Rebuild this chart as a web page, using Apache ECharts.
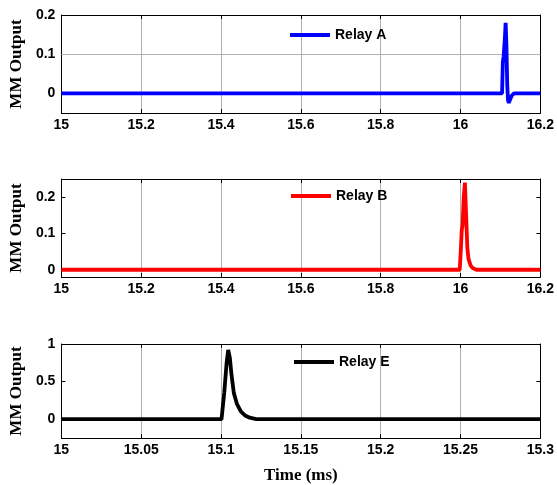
<!DOCTYPE html>
<html>
<head>
<meta charset="utf-8">
<script src="https://cdn.jsdelivr.net/npm/echarts@6/dist/echarts.min.js"></script>
<style>
html,body{margin:0;padding:0;background:#fff;}
#chart{width:557px;height:485px;}
</style>
</head>
<body>
<div id="chart"></div>
<script>
// Relay A (top panel)
const relayATime  = [15, 16.104, 16.106, 16.108, 16.110, 16.111, 16.113, 16.115, 16.117, 16.119, 16.121, 16.124, 16.128, 16.134, 16.2];
const relayAValue = [0,  0,      0.08,   0.095,  0.10,   0.14,   0.18,   0.12,   0.02,   -0.018, -0.024, -0.016, -0.006, 0,      0];
// Relay B (middle panel)
const relayBTime  = [15, 15.998, 16.001, 16.003, 16.005, 16.008, 16.011, 16.014, 16.017, 16.020, 16.025, 16.030, 16.040, 16.2];
const relayBValue = [0,  0,      0.06,   0.11,   0.12,   0.20,   0.24,   0.15,   0.06,   0.03,   0.012,  0.005,  0,      0];
// Relay E (bottom panel)
const relayETime  = [15, 15.1003, 15.102, 15.1035, 15.1045, 15.1055, 15.1065, 15.108, 15.110, 15.1125, 15.115, 15.118, 15.122, 15.3];
const relayEValue = [0,  0,       0.35,   0.75,    0.92,    0.82,    0.60,    0.35,   0.20,   0.10,    0.05,   0.02,   0,      0];

// Axis settings
const xRangeAB = [15, 16.2], xStepAB = 0.2;
const xRangeE  = [15, 15.3], xStepE  = 0.05;
const yRangeA = [-0.05, 0.2], yTicksA = [0, 0.1, 0.2];
const yRangeB = [-0.02, 0.25], yTicksB = [0, 0.1, 0.2];
const yRangeE = [-0.25, 1], yTicksE = [0, 0.5, 1];
const seriesNames = ['Relay A', 'Relay B', 'Relay E'];
const seriesColors = ['#0000ff', '#ff0000', '#000000'];
const yAxisTitle = 'MM Output';
const xAxisTitle = 'Time (ms)';

const tickFont = {fontFamily: 'Liberation Sans, Arial, sans-serif', fontWeight: 'bold', fontSize: 14, color: '#000'};
const titleFont = {fontFamily: 'Liberation Serif, Times New Roman, serif', fontWeight: 'bold', fontSize: 17, color: '#000'};

const grids = [
  {left: 58, right: 16, top: 15, height: 98},
  {left: 58, right: 16, top: 179, height: 98},
  {left: 58, right: 16, top: 344, height: 97}
];

const xDefs = [
  {range: xRangeAB, step: xStepAB},
  {range: xRangeAB, step: xStepAB},
  {range: xRangeE, step: xStepE}
];
const yDefs = [
  {range: yRangeA, ticks: yTicksA},
  {range: yRangeB, ticks: yTicksB},
  {range: yRangeE, ticks: yTicksE}
];

const xAxes = [], yAxes = [], series = [], legends = [];
const lineStyleAxis = {show: true, onZero: false, lineStyle: {color: '#000', width: 1}};
const legendPos = [{left: 290, top: 28}, {left: 291, top: 189}, {left: 294, top: 355}];

for (let i = 0; i < 3; i++) {
  const xd = xDefs[i], yd = yDefs[i];
  xAxes.push({
    type: 'value', gridIndex: i, position: 'bottom',
    min: xd.range[0], max: xd.range[1], interval: xd.step,
    axisLine: lineStyleAxis,
    axisTick: {show: true, inside: true, length: 4, lineStyle: {color: '#000'}},
    axisLabel: Object.assign({margin: 5, formatter: v => String(+v.toFixed(4))}, tickFont),
    splitLine: {show: true, lineStyle: {color: '#b0b0b0', width: 1}},
    name: i === 2 ? xAxisTitle : '', nameLocation: 'middle', nameGap: 29,
    nameTextStyle: titleFont
  });
  xAxes.push({
    type: 'value', gridIndex: i, position: 'top',
    min: xd.range[0], max: xd.range[1], interval: xd.step,
    axisLine: lineStyleAxis,
    axisTick: {show: true, inside: true, length: 4, lineStyle: {color: '#000'}},
    axisLabel: {show: false}, splitLine: {show: false}
  });
  yAxes.push({
    type: 'value', gridIndex: i, position: 'left',
    min: yd.range[0], max: yd.range[1],
    axisLine: lineStyleAxis,
    axisTick: {show: true, inside: true, length: 4, customValues: yd.ticks, lineStyle: {color: '#000'}},
    axisLabel: Object.assign({margin: 6, customValues: yd.ticks, formatter: v => String(+v.toFixed(3))}, tickFont),
    splitLine: {show: false},
    name: yAxisTitle, nameLocation: 'middle', nameRotate: 90, nameGap: 32,
    nameTextStyle: titleFont
  });
  yAxes.push({
    type: 'value', gridIndex: i, position: 'right',
    min: yd.range[0], max: yd.range[1],
    axisLine: lineStyleAxis,
    axisTick: {show: true, inside: true, length: 4, customValues: yd.ticks, lineStyle: {color: '#000'}},
    axisLabel: {show: false}, splitLine: {show: false}
  });
}

const times = [relayATime, relayBTime, relayETime];
const values = [relayAValue, relayBValue, relayEValue];
for (let i = 0; i < 3; i++) {
  const s = {
    name: seriesNames[i], type: 'line',
    xAxisIndex: i * 2, yAxisIndex: i * 2,
    data: times[i].map((t, k) => [t, values[i][k]]),
    showSymbol: false, symbol: 'none', smooth: false,
    lineStyle: {color: seriesColors[i], width: 3.8},
    itemStyle: {color: seriesColors[i]},
    z: 5, animation: false
  };
  if (i === 0) {
    s.markLine = {
      silent: true, symbol: 'none', label: {show: false},
      lineStyle: {color: '#b0b0b0', width: 1, type: 'solid'},
      data: [{yAxis: 0.1}], z: 1
    };
  }
  series.push(s);
  legends.push({
    data: [seriesNames[i]], left: legendPos[i].left, top: legendPos[i].top,
    padding: 0,
    icon: 'rect', itemWidth: 40, itemHeight: 4, itemGap: 5,
    textStyle: {fontFamily: 'Liberation Sans, Arial, sans-serif', fontWeight: 'bold', fontSize: 14, color: '#000'},
    selectedMode: false
  });
}

const chart = echarts.init(document.getElementById('chart'), null, {renderer: 'canvas'});
chart.setOption({
  animation: false,
  backgroundColor: '#fff',
  grid: grids,
  xAxis: xAxes,
  yAxis: yAxes,
  legend: legends,
  series: series
});
</script>
</body>
</html>
